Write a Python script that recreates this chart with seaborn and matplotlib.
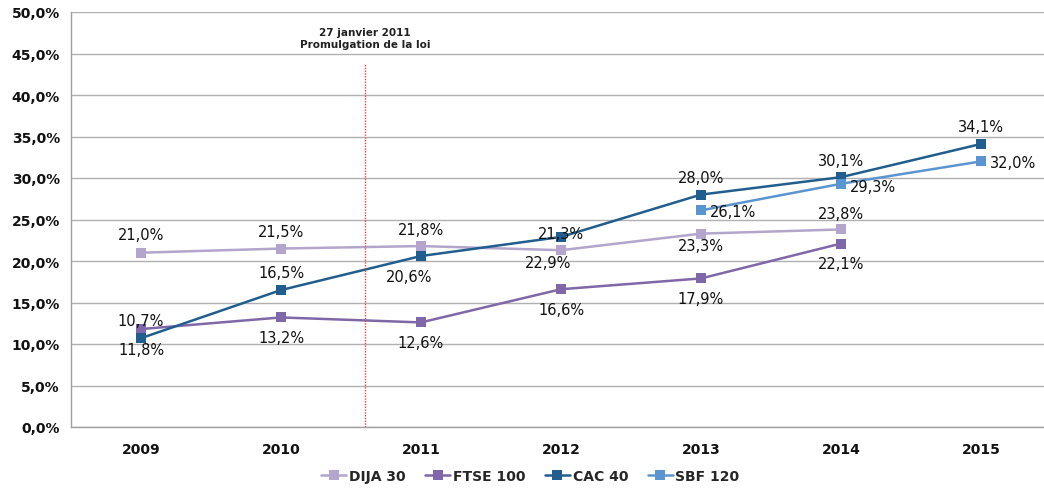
import numpy as np
import pandas as pd
import matplotlib
matplotlib.use("Agg")
import matplotlib.pyplot as plt
from matplotlib.lines import Line2D
from matplotlib.ticker import FuncFormatter, FixedLocator
import seaborn as sns

# données (taux de femmes, en %)
annees = [2009, 2010, 2011, 2012, 2013, 2014, 2015]
dija_30 = [21.0, 21.5, 21.8, 21.3, 23.3, 23.8, None]
ftse_100 = [11.8, 13.2, 12.6, 16.6, 17.9, 22.1, None]
cac_40 = [10.7, 16.5, 20.6, 22.9, 28.0, 30.1, 34.1]
sbf_120 = [None, None, None, None, 26.1, 29.3, 32.0]
noms = ["DIJA 30", "FTSE 100", "CAC 40", "SBF 120"]
date_loi = 2010.6
texte_loi = "27 janvier 2011\nPromulgation de la loi"

couleurs = {"DIJA 30": "#B3A5CC", "FTSE 100": "#8067A8",
            "CAC 40": "#215E8E", "SBF 120": "#5B95CF"}

# décalage des étiquettes (pixels) : (dx, dy, alignement)
decalages = {
    "DIJA 30": [(0, 18, "center"), (0, 17, "center"), (0, 17, "center"),
                (0, 17, "center"), (0, -12, "center"), (0, 16, "center"), None],
    "FTSE 100": [(0, -20, "center")] * 6 + [None],
    "CAC 40": [(0, 18, "center"), (0, 18, "center"), (-12, -20, "center"),
               (-13, -26, "center"), (0, 17, "center"), (0, 17, "center"),
               (0, 17, "center")],
    "SBF 120": [None] * 4 + [(9, -1, "left"), (9, -3, "left"), (9, -1, "left")],
}

series = [dija_30, ftse_100, cac_40, sbf_120]
rows = []
for nom, vals in zip(noms, series):
    for a, v in zip(annees, vals):
        if v is not None:
            rows.append({"annee": a, "taux": v, "indice": nom})
df = pd.DataFrame(rows)

sns.set_style("white")
plt.rcParams["font.family"] = ["DejaVu Sans"]

fig = plt.figure(figsize=(10.44, 4.89), dpi=100)
ax = fig.add_axes([71 / 1044, 1 - 428 / 489, 980 / 1044, 415 / 489])

sns.lineplot(data=df, x="annee", y="taux", hue="indice", hue_order=noms,
             palette=couleurs, marker="s", markersize=6.5, markeredgewidth=0,
             linewidth=1.8, legend=False, ax=ax)

px = 0.72
for nom, vals in zip(noms, series):
    for a, v, d in zip(annees, vals, decalages[nom]):
        if v is None or d is None:
            continue
        ax.annotate(f"{v:.1f}%".replace(".", ","), (a, v),
                    xytext=(d[0] * px, d[1] * px), textcoords="offset points",
                    ha=d[2], va="center", fontsize=10.5, color="#111111")

ax.axvline(date_loi, ymin=0, ymax=(428 - 65) / 415, color="#E04848",
           linestyle=(0, (1, 1)), linewidth=1.0)
ax.text(date_loi, 45.6, texte_loi, ha="center", va="bottom", fontsize=7.5,
        fontweight="bold", color="#222222", linespacing=1.2)

ax.set_xlim(2008.5, 2015.5)
ax.set_ylim(0, 50)
ax.set_yticks(np.arange(0, 51, 5))
ax.yaxis.set_major_formatter(FuncFormatter(lambda v, p: f"{v:.1f}%".replace(".", ",")))
ax.set_xticks(annees)
ax.set_xticklabels([str(a) for a in annees])
ax.xaxis.set_minor_locator(FixedLocator(np.arange(2009.5, 2015.5, 1)))
ax.tick_params(axis="x", which="major", length=0, pad=11)
ax.tick_params(axis="x", which="minor", length=5, color="#A0A0A0", direction="out")
ax.tick_params(axis="y", length=4, color="#A0A0A0", direction="out", pad=4)
for lab in ax.get_xticklabels() + ax.get_yticklabels():
    lab.set_fontweight("bold")
    lab.set_fontsize(10)
    lab.set_color("#111111")

ax.grid(axis="y", color="#B0B0B0", linewidth=1)
ax.set_axisbelow(True)
sns.despine(ax=ax, top=True, right=True)
for s in ["left", "bottom"]:
    ax.spines[s].set_color("#A0A0A0")
    ax.spines[s].set_linewidth(1)
ax.set_xlabel("")
ax.set_ylabel("")

handles = [Line2D([0], [0], color=couleurs[n], marker="s", markersize=6.5,
                  markeredgewidth=0, linewidth=1.8) for n in noms]
leg = fig.legend(handles, noms, loc="center", bbox_to_anchor=(0.508, 0.024),
                 ncol=4, frameon=False, handlelength=1.8, handletextpad=0.2,
                 columnspacing=1.4, prop={"weight": "bold", "size": 10})

fig.savefig("out.png", dpi=100)
